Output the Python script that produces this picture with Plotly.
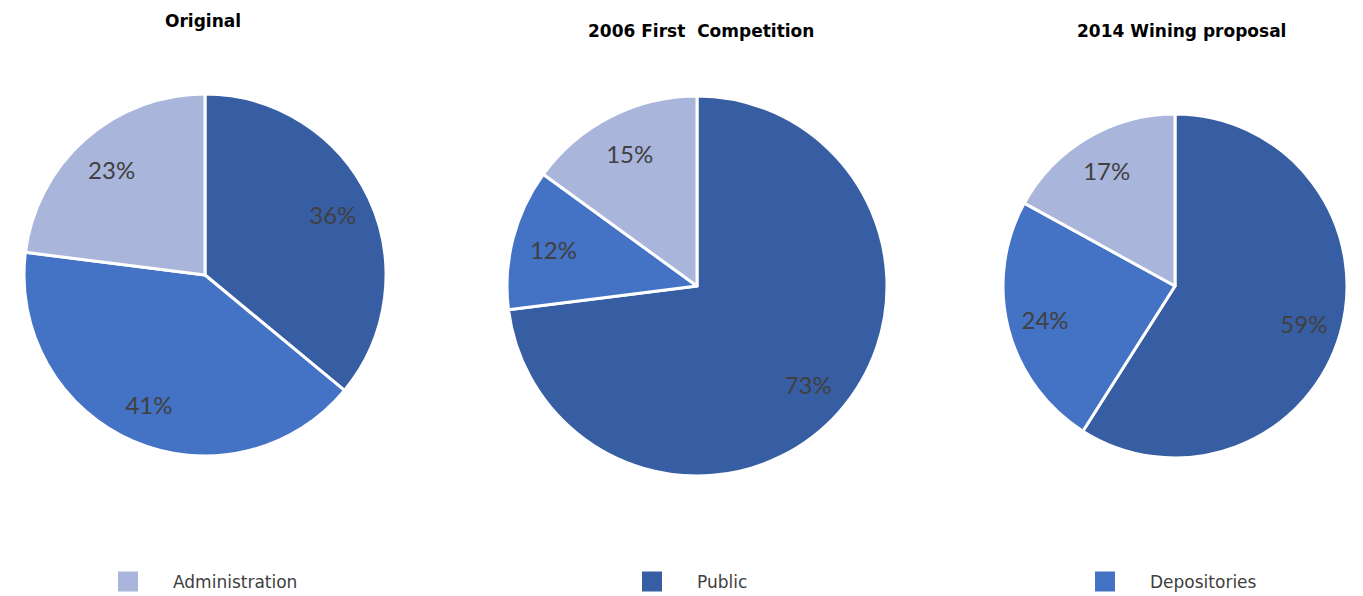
import plotly.graph_objects as go

labels = ["Public", "Depositories", "Administration"]
colors = ["#375EA3", "#4472C4", "#A9B5DB"]
titles = ["Original", "2006 First  Competition", "2014 Wining proposal"]
original = [36, 41, 23]
competition_2006 = [73, 12, 15]
proposal_2014 = [59, 24, 17]
legend_order = ["Administration", "Public", "Depositories"]

W, H = 1363, 596

def dom(cx, cy, r):
    return dict(x=[(cx - r) / W, (cx + r) / W], y=[1 - (cy + r) / H, 1 - (cy - r) / H])

domains = [dom(205, 275, 181), dom(697, 286, 190), dom(1175, 286, 172)]
series = [original, competition_2006, proposal_2014]

fig = go.Figure()
for vals, d in zip(series, domains):
    fig.add_trace(go.Pie(
        labels=labels, values=vals, domain=d, sort=False, direction="clockwise",
        rotation=0, marker=dict(colors=colors, line=dict(color="white", width=3)),
        textinfo="none", showlegend=False, hoverinfo="label+percent",
    ))
# transparent ring carrying the percentage labels at the ring middle
for vals, d in zip(series, domains):
    fig.add_trace(go.Pie(
        labels=labels, values=vals, domain=d, sort=False, direction="clockwise",
        rotation=0, hole=0.56,
        marker=dict(colors=["rgba(0,0,0,0)"] * 3, line=dict(width=0)),
        textinfo="percent", textposition="inside", insidetextorientation="horizontal",
        textfont=dict(family="Lato", size=24, color="#404040"),
        showlegend=False, hoverinfo="skip",
    ))

title_x = [203, 701, 1181]
title_y = [21, 31, 31]
for t, x, y in zip(titles, title_x, title_y):
    fig.add_annotation(text="<b>" + t + "</b>", x=x / W, y=1 - y / H, xref="paper", yref="paper",
                       xanchor="center", yanchor="middle", showarrow=False,
                       font=dict(family="DejaVu Sans", size=17, color="black"))

legend_text_x = [173, 697, 1150]
lg = {}
for i, (name, tx) in enumerate(zip(legend_order, legend_text_x)):
    key = "legend" if i == 0 else f"legend{i+1}"
    c = colors[labels.index(name)]
    fig.add_trace(go.Scatter(x=[None], y=[None], mode="markers", name=name,
                             marker=dict(symbol="square", size=16, color=c, line=dict(color=c, width=4)),
                             legend=key, showlegend=True, hoverinfo="skip"))
    lg[key] = dict(x=(tx - 90) / W, y=1 - 582 / H, xanchor="left", yanchor="middle",
                   orientation="h", font=dict(family="DejaVu Sans", size=17, color="#404040"),
                   bgcolor="rgba(0,0,0,0)", itemwidth=80)

fig.update_layout(width=W, height=H, margin=dict(l=0, r=0, t=0, b=0, autoexpand=False),
                  paper_bgcolor="white", plot_bgcolor="white",
                  xaxis=dict(visible=False), yaxis=dict(visible=False), **lg)
fig.write_html("out.html", config={"displayModeBar": False},
               post_script="document.body.style.margin='0px';")
